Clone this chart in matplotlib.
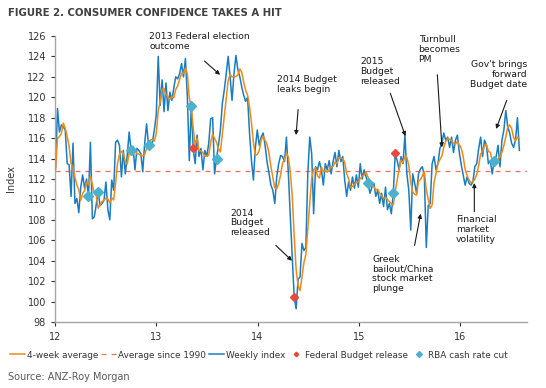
import matplotlib
matplotlib.use("Agg")
import matplotlib.pyplot as plt
import numpy as np
import pandas as pd

plt.rcParams['font.family'] = ['DejaVu Sans']

# weekly ANZ-Roy Morgan consumer confidence index, weeks from 3 Jan 2012
weekly_2012 = [113.0, 118.9, 116.6, 117.3, 117.1, 116.8, 113.5, 113.4, 110.3, 115.5,
               109.6, 110.1, 108.7, 111.2, 112.4, 111.1, 112.0, 110.3, 115.6, 108.1,
               108.3, 109.5, 110.7, 109.4, 109.6, 109.9, 111.7, 109.0, 108.0, 111.9,
               110.9, 115.6, 115.8, 115.3, 112.2, 114.8, 112.5, 114.3, 116.6, 114.8,
               115.1, 112.9, 115.0, 114.8, 114.5, 112.7, 115.5, 117.4, 115.3, 115.1,
               115.6, 116.8, 118.3, 124.0, 119.2, 121.7, 118.6, 121.4, 118.7, 120.5,
               119.7]
weekly_2013 = [120.9, 122.0, 121.8, 122.3, 123.3, 122.0, 123.8, 120.0, 113.8, 119.1,
               115.0, 113.5, 116.3, 114.2, 115.0, 112.9, 114.8, 114.2, 115.5, 117.9,
               118.0, 112.5, 114.0, 115.3, 116.8, 119.4, 120.7, 122.3, 124.0, 122.0,
               119.7, 122.3, 124.1, 122.7, 122.0, 121.0, 120.2, 119.6, 120.0, 116.5,
               113.8, 111.9, 115.1, 116.8, 115.3, 116.1, 116.5, 115.3, 113.7, 112.6,
               111.4, 110.9, 109.6, 112.2, 113.5, 114.3, 114.2, 113.7, 116.1, 112.5,
               108.3, 104.4]
weekly_2014 = [100.4, 99.3, 102.2, 102.4, 105.7, 105.0, 105.3, 112.5, 116.1, 114.5,
               108.6, 113.2, 112.9, 113.7, 112.9, 111.4, 113.5, 112.9, 113.8, 112.5,
               113.7, 114.6, 113.2, 114.8, 113.7, 114.2, 111.9, 110.3, 111.7, 110.9,
               112.2, 111.1, 112.4, 111.2, 113.5, 112.0, 112.9, 112.2, 111.6, 110.6,
               111.2, 111.6, 110.3, 110.9, 109.6, 110.6, 109.3, 111.2, 109.0, 109.6,
               108.6, 110.6, 114.5, 113.8, 112.9, 114.2, 113.5, 116.3, 112.5, 110.9,
               107.0]
weekly_2015 = [112.5, 111.6, 110.6, 112.5, 113.0, 113.2, 112.2, 105.3, 109.4, 109.6,
               113.5, 114.2, 112.9, 113.5, 115.0, 115.5, 116.5, 115.8, 116.1, 115.1,
               116.1, 114.6, 115.8, 116.3, 114.6, 113.4, 112.4, 111.4, 112.2, 111.6,
               111.4, 111.7, 113.2, 113.5, 115.0, 116.1, 114.2, 115.8, 115.3, 113.5,
               113.8, 112.5, 113.8, 114.2, 115.3, 113.2, 115.8, 116.8, 118.7, 117.1,
               116.5, 115.5, 115.1, 115.8, 118.0, 114.8]

long_run_avg = 112.8

budget_dates = ['2013-05-14', '2014-05-13', '2015-05-12', '2016-05-03']
rba_dates = ['2012-05-01', '2012-06-05', '2012-10-02', '2012-12-04', '2013-05-07',
             '2013-08-06', '2015-02-03', '2015-05-05', '2016-05-03']

notes = [
    ("2013 Federal election\noutcome", (12.93, 126.35), (13.475, 123.55), (13.63, 122.2), 'left'),
    ("2014 Budget\nleaks begin", (14.19, 122.2), (14.40, 118.8), (14.38, 116.3), 'left'),
    ("2015\nBudget\nreleased", (15.01, 123.9), (15.31, 120.4), (15.46, 116.2), 'left'),
    ("Turnbull\nbecomes\nPM", (15.59, 126.1), (15.775, 122.2), (15.82, 115.1), 'left'),
    ("Gov't brings\nforward\nBudget date", (16.66, 123.65), (16.46, 119.7), (16.355, 116.9), 'right'),
    ("2014\nBudget\nreleased", (13.73, 109.1), (14.18, 105.5), (14.34, 104.0), 'left'),
    ("Greek\nbailout/China\nstock market\nplunge", (15.13, 104.6), (15.55, 105.5), (15.61, 108.6), 'left'),
    ("Financial\nmarket\nvolatility", (15.96, 108.45), (16.14, 108.8), (16.14, 111.6), 'left'),
]

weekly = pd.Series(weekly_2012 + weekly_2013 + weekly_2014 + weekly_2015)
dates = pd.date_range('2012-01-03', periods=len(weekly), freq='7D')
ndays = np.where(dates.is_leap_year, 366, 365)
xyear = (dates.year - 2000) + (dates.dayofyear - 1) / ndays
avg4 = weekly.rolling(4, min_periods=1).mean()


def event_idx(dl):
    return np.abs(dates.values[:, None] - pd.to_datetime(dl).values[None, :]).argmin(axis=0)


bi = event_idx(budget_dates)
ri = event_idx(rba_dates)

BLUE = '#1b7cbf'
ORANGE = '#ee8a16'
RED = '#e8483c'
CYAN = '#4bb1cc'
TXT = '#333333'

fig = plt.figure(figsize=(5.46, 3.88), dpi=100)
ax = fig.add_axes([55 / 546, 1 - 322 / 388, 472 / 546, 286 / 388])

l_avg = ax.axhline(long_run_avg, color='#f26b5b', lw=0.9, ls=(0, (4, 4)), zorder=1)
l_week, = ax.plot(xyear, weekly, color=BLUE, lw=1.1, zorder=2)
l_4w, = ax.plot(xyear, avg4, color=ORANGE, lw=1.1, zorder=3)
m_rba, = ax.plot(xyear[ri], weekly.values[ri], ls='none', marker='D', ms=5.0, color=CYAN, zorder=5)
m_bud, = ax.plot(xyear[bi], weekly.values[bi], ls='none', marker='D', ms=3.8, color=RED, zorder=4)

ax.set_xlim(12, 16.66)
ax.set_ylim(98, 126)
ax.set_xticks([12, 13, 14, 15, 16])
ax.set_yticks(np.arange(98, 127, 2))
ax.tick_params(labelsize=7, colors=TXT, length=3, width=0.8)
ax.tick_params(axis='x', pad=4)
for s in ['top', 'right']:
    ax.spines[s].set_visible(False)
for s in ['left', 'bottom']:
    ax.spines[s].set_color('#a6a6a6')
    ax.spines[s].set_linewidth(1.0)
ax.set_ylabel('Index', fontsize=7, color=TXT, labelpad=8)

for txt, tpos, a0, a1, ha in notes:
    ax.text(tpos[0], tpos[1], txt, ha=ha, va='top', fontsize=6.7, color='#1a1a1a',
            linespacing=1.12, multialignment=ha, clip_on=False)
    ax.annotate('', xy=a1, xytext=a0,
                arrowprops=dict(arrowstyle='-|>', color='#1a1a1a', lw=0.8,
                                mutation_scale=6, shrinkA=0, shrinkB=0))

fig.text(8 / 546, 1 - 13 / 388, 'FIGURE 2. CONSUMER CONFIDENCE TAKES A HIT',
         fontsize=7.3, fontweight='bold', color='#404040', va='center')
fig.text(8 / 546, 1 - 377 / 388, 'Source: ANZ-Roy Morgan', fontsize=7,
         color='#595959', va='center')

fig.legend([l_4w, l_avg, l_week, m_bud, m_rba],
           ['4-week average', 'Average since 1990', 'Weekly index',
            'Federal Budget release', 'RBA cash rate cut'],
           loc='center', bbox_to_anchor=(0.474, 1 - 355 / 388), ncol=5,
           frameon=False, fontsize=6.4, handlelength=1.7, handletextpad=0.2,
           columnspacing=0.35, markerscale=0.6, labelcolor=TXT,
           borderpad=0.1, borderaxespad=0.1)

fig.savefig('out.png', dpi=100)
